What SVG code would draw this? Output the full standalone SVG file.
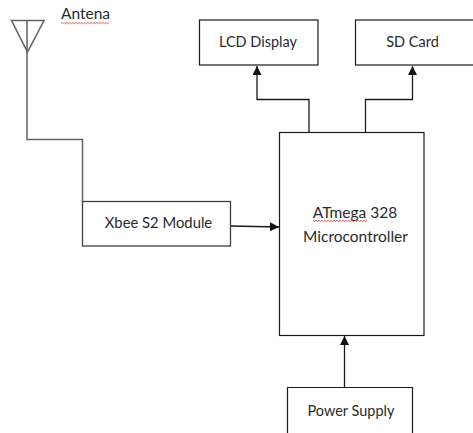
<svg xmlns="http://www.w3.org/2000/svg" width="473" height="433" viewBox="0 0 473 433">
<style>
.box{fill:#fff;stroke:#1a1a1a;stroke-width:1.2}
.gbox{fill:#fff;stroke:#404040;stroke-width:1.3}
.line{fill:none;stroke:#1a1a1a;stroke-width:1.3}
.ant{fill:none;stroke:#606060;stroke-width:1.5}
.wave{fill:none;stroke:#e03030;stroke-width:.8}
text{font-family:Lato,"Open Sans",sans-serif;font-size:14.5px;fill:#2a2a2a;text-anchor:middle}
.big{font-size:15.5px}
</style>
<defs>
<marker id="arrow" markerUnits="userSpaceOnUse" markerWidth="10" markerHeight="10" refX="9" refY="4.500" orient="auto"><path d="M0 0L9 4.500L0 9Z" fill="#111"/></marker>
</defs>
<rect width="473" height="433" fill="#fff"/>
<g id="connectors">
<path class="ant" d="M27 20V139.5H82.5V201"/>
<path class="line" d="M309 132V99.500H257V66" marker-end="url(#arrow)"/>
<path class="line" d="M365.500 132V99.500H412.500V66" marker-end="url(#arrow)"/>
<path class="line" d="M231 226L279 227" marker-end="url(#arrow)"/>
<path class="line" d="M344.500 387V336" marker-end="url(#arrow)"/>
</g>
<g id="antenna">
<path class="ant" d="M11.500 20.500H44L27.500 52Z"/>
<text class="big" x="85.500" y="19">Antena</text>
<path class="wave" d="M61 22.500l1.500 1.200 1.500-1.200 1.500 1.200 1.500-1.200 1.500 1.200 1.500-1.200 1.500 1.200 1.500-1.200 1.500 1.200 1.500-1.200 1.500 1.200 1.500-1.200 1.500 1.200 1.500-1.200 1.500 1.200 1.500-1.200 1.500 1.200 1.500-1.200 1.500 1.200 1.500-1.200 1.500 1.200 1.500-1.200 1.500 1.200 1.500-1.200 1.500 1.200 1.500-1.200 1.500 1.200 1.500-1.200 1.500 1.200 1.500-1.200 1.500 1.200 1.500-1.200"/>
</g>
<g id="lcd-display">
<rect class="box" x="199.500" y="20" width="118.500" height="45"/>
<text x="258" y="47">LCD Display</text>
</g>
<g id="sd-card">
<rect class="box" x="355.500" y="20" width="118.500" height="45"/>
<text x="412.500" y="47">SD Card</text>
</g>
<g id="xbee">
<rect class="gbox" x="82.500" y="201.500" width="148" height="44.500"/>
<text x="158.500" y="228" style="font-size:14.8px">Xbee S2 Module</text>
</g>
<g id="microcontroller">
<rect class="box" x="279.500" y="132.500" width="144.500" height="203"/>
<text class="big" x="355" y="218">ATmega 328</text>
<text class="big" x="355.500" y="241.500">Microcontroller</text>
<path class="wave" d="M313 220.300l1.500 1.200 1.500-1.200 1.500 1.200 1.500-1.200 1.500 1.200 1.500-1.200 1.500 1.200 1.500-1.200 1.500 1.200 1.500-1.200 1.500 1.200 1.500-1.200 1.500 1.200 1.500-1.200 1.500 1.200 1.500-1.200 1.500 1.200 1.500-1.200 1.500 1.200 1.500-1.200 1.500 1.200 1.500-1.200 1.500 1.200 1.500-1.200 1.500 1.200 1.500-1.200 1.500 1.200 1.500-1.200 1.500 1.200 1.500-1.200 1.500 1.200 1.500-1.200 1.500 1.200 1.500-1.200 1.500 1.200 1.500-1.200"/>
</g>
<g id="power-supply">
<path class="box" d="M287.500 433V387.500H412.500V433"/>
<text x="351" y="416">Power Supply</text>
</g>
</svg>
